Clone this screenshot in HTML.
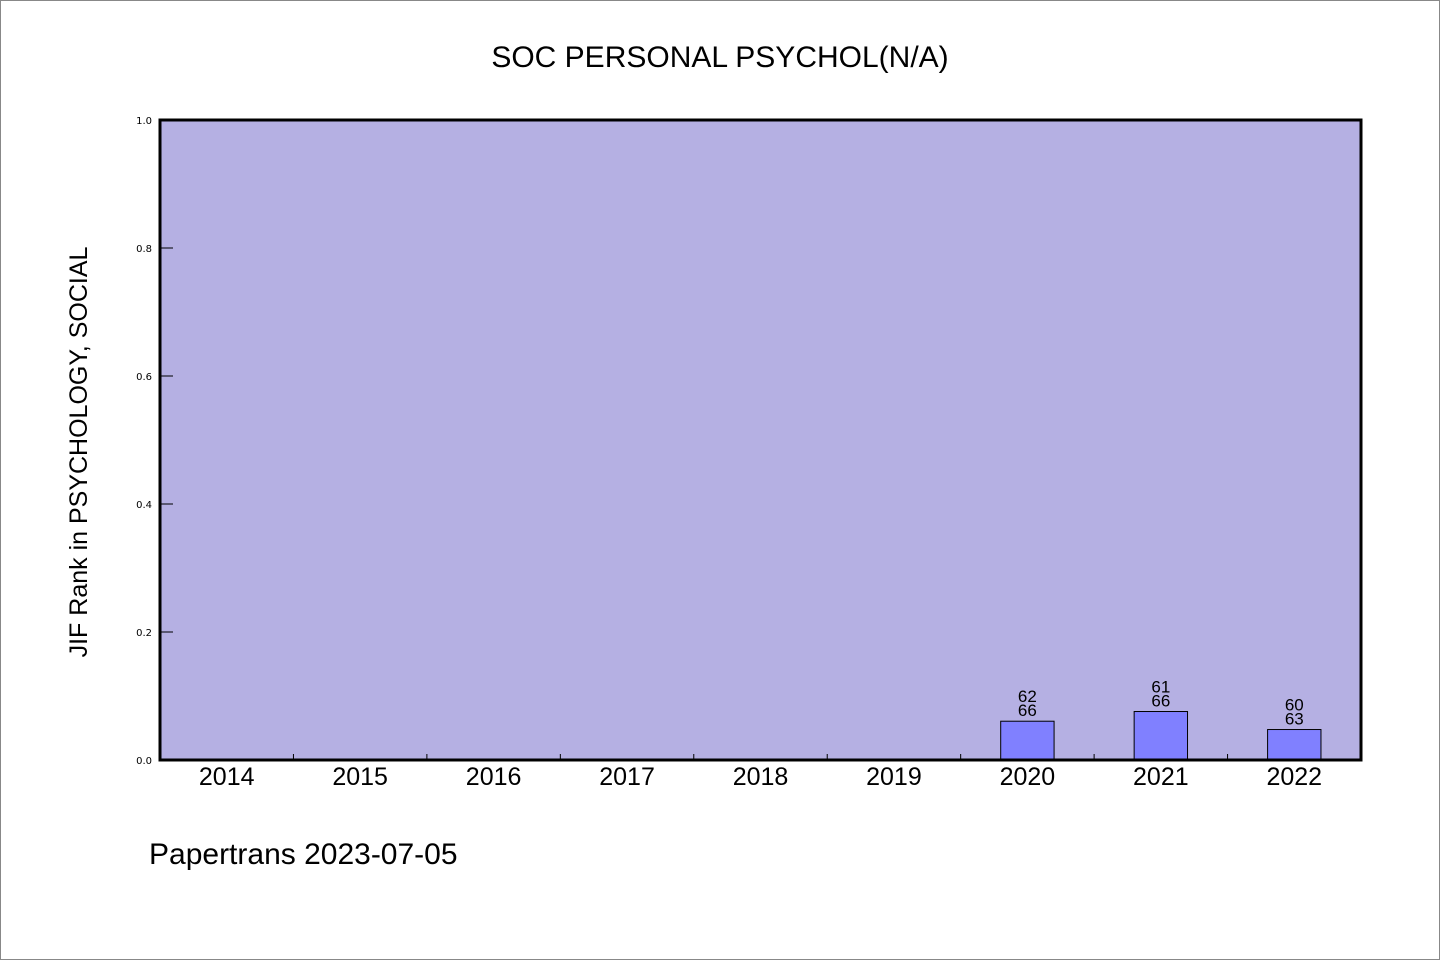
<!DOCTYPE html>
<html><head><meta charset="utf-8"><style>
html,body{margin:0;padding:0;background:#fff}
svg{display:block}
</style></head><body>
<svg id="chart" width="1440" height="960" xmlns="http://www.w3.org/2000/svg" font-family="'WenQuanYi Zen Hei','Liberation Sans',sans-serif">
<rect x="0.5" y="0.5" width="1439" height="959" fill="#fff" stroke="#888" stroke-width="1"/>
<text x="720" y="67" font-size="30" text-anchor="middle" fill="#000">SOC PERSONAL PSYCHOL(N/A)</text>
<rect x="160" y="120" width="1201" height="640" fill="#b5b0e3"/>
<g id="ticks"></g>
<g id="bars"></g>
<rect x="160" y="120" width="1201" height="640" fill="none" stroke="#000" stroke-width="3"/>
<text transform="translate(87,452) rotate(-90)" font-size="25" text-anchor="middle" fill="#000">JIF Rank in PSYCHOLOGY, SOCIAL</text>
<text x="149" y="864" font-size="30" fill="#000">Papertrans 2023-07-05</text>
</svg>
<script>
const categories = ["2014","2015","2016","2017","2018","2019","2020","2021","2022"];
const ranks = [null,null,null,null,null,null,62,61,60];
const totals = [null,null,null,null,null,null,66,66,63];
const yTicks = [0.0,0.2,0.4,0.6,0.8,1.0];

const NS="http://www.w3.org/2000/svg";
const X0=160,X1=1361,Y0=760,Y1=120;
const band=(X1-X0)/categories.length;
const xCenter=i=>X0+band*(i+0.5);
const yScale=v=>Y0-(Y0-Y1)*v;
function mk(tag,attrs,parent,text){const e=document.createElementNS(NS,tag);for(const k in attrs)e.setAttribute(k,attrs[k]);if(text!==undefined)e.textContent=text;parent.appendChild(e);return e;}
const tg=document.getElementById('ticks'), bg=document.getElementById('bars');

yTicks.forEach(v=>{
  const y=yScale(v);
  const l=mk('line',{x1:X0,x2:X0+13,y1:y,y2:y,stroke:'#000','stroke-width':1},tg);
  
  
  const t=mk('text',{x:152,y:y+4,'font-size':10,'text-anchor':'end','font-family':"'DejaVu Sans',sans-serif",fill:'#000'},tg,v.toFixed(1));
  
  
});
categories.forEach((c,i)=>{
  if(i>0){
    const x=X0+band*i;
    const l=mk('line',{x1:x,x2:x,y1:Y0,y2:Y0-6,stroke:'#000','stroke-width':1},tg);
    
    
  }
  const t=mk('text',{x:xCenter(i),y:785,'font-size':25,'text-anchor':'middle',fill:'#000'},tg,c);
  
  
  if(ranks[i]!=null){
    const v=(totals[i]-ranks[i])/totals[i];
    const w=band*0.4, y=yScale(v);
    const r=mk('rect',{x:xCenter(i)-w/2,y:y,width:w,height:Y0-y,fill:'#8080ff',stroke:'#000','stroke-width':1},bg);
    
    
    const t1=mk('text',{x:xCenter(i),y:y-19,'font-size':17,'text-anchor':'middle',fill:'#000'},bg,String(ranks[i]));
    
    
    const t2=mk('text',{x:xCenter(i),y:y-5,'font-size':17,'text-anchor':'middle',fill:'#000'},bg,String(totals[i]));
    
    
  }
});
</script>
</body></html>
